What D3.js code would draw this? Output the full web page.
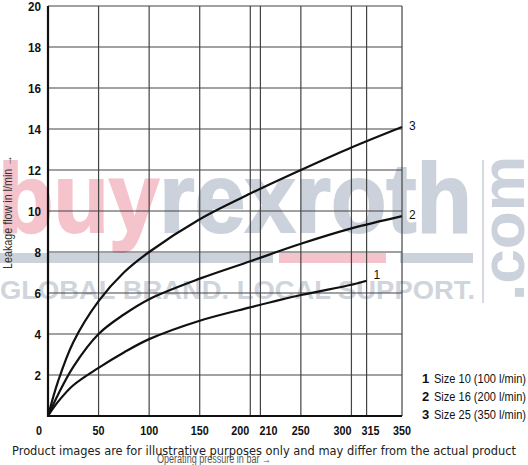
<!DOCTYPE html>
<html>
<head>
<meta charset="utf-8">
<script src="https://cdn.jsdelivr.net/npm/d3@7"></script>
<style>
  body { margin: 0; background: #fff; }
  svg { display: block; }
</style>
</head>
<body>
<script>
// Chart data
let pressureTicks = [0, 50, 100, 150, 200, 210, 250, 300, 315, 350]
let flowTicks = [2, 4, 6, 8, 10, 12, 14, 16, 18, 20]

let pressure10 = [0, 10, 25, 50, 75, 100, 150, 200, 250, 300, 315]
let flow10 = [0, 0.7, 1.5, 2.35, 3.1, 3.75, 4.65, 5.3, 5.9, 6.4, 6.6]

let pressure16 = [0, 10, 25, 50, 75, 100, 150, 200, 250, 300, 350]
let flow16 = [0, 1.05, 2.4, 4.0, 4.95, 5.7, 6.7, 7.55, 8.4, 9.15, 9.75]

let pressure25 = [0, 10, 25, 50, 75, 100, 150, 200, 250, 300, 350]
let flow25 = [0, 1.7, 3.6, 5.6, 7.0, 8.0, 9.6, 10.85, 12.0, 13.1, 14.1]

let curveNames = ["1", "2", "3"]
let legendLabels = ["Size 10 (100 l/min)", "Size 16 (200 l/min)", "Size 25 (350 l/min)"]

let width = 528, height = 465
let sans = "'Liberation Sans', Arial, sans-serif"

// labels of close ticks are pushed apart a little
let tickNudge = { 0: -9, 200: -10, 210: 8, 300: -9, 315: 4 }

let svg = d3.select("body").append("svg")
    .attr("width", width)
    .attr("height", height)

// scales
let x = d3.scaleLinear().domain([0, 350]).range([48, 402])
let y = d3.scaleLinear().domain([0, 20]).range([416, 6])

// watermark behind everything
let wm = svg.append("g")
wm.append("text")
    .attr("x", -2).attr("y", 232)
    .attr("font-family", sans)
    .attr("font-weight", "bold")
    .attr("font-size", 98)
    .attr("stroke-width", 2)
    .attr("textLength", 474)
    .attr("lengthAdjust", "spacingAndGlyphs")
    .html('<tspan fill="#f5c3cb" stroke="#f5c3cb">buy</tspan><tspan fill="#cbd2db" stroke="#cbd2db">rexroth</tspan>')
wm.append("rect").attr("x", 0).attr("y", 253).attr("width", 273).attr("height", 10).attr("fill", "#cbd2db")
wm.append("rect").attr("x", 279).attr("y", 253).attr("width", 107).attr("height", 10).attr("fill", "#f5c3cb")
wm.append("rect").attr("x", 400).attr("y", 253).attr("width", 73).attr("height", 10).attr("fill", "#cbd2db")
wm.append("text")
    .attr("x", 0).attr("y", 299)
    .attr("font-family", sans)
    .attr("font-weight", "bold")
    .attr("font-size", 25)
    .attr("fill", "#d0d5dc")
    .attr("textLength", 475)
    .attr("lengthAdjust", "spacingAndGlyphs")
    .text("GLOBAL BRAND. LOCAL SUPPORT.")
wm.append("rect").attr("x", 482).attr("y", 160).attr("width", 2).attr("height", 143).attr("fill", "#d5dae0")
wm.append("text")
    .attr("transform", "translate(524,301) rotate(-90)")
    .attr("font-family", sans)
    .attr("font-weight", "bold")
    .attr("font-size", 62)
    .attr("fill", "#cbd2db")
    .attr("textLength", 145)
    .attr("lengthAdjust", "spacingAndGlyphs")
    .text(".com")

// grid lines
svg.append("g")
  .selectAll("line")
  .data(pressureTicks.filter(d => d > 0))
  .enter()
  .append("line")
    .attr("x1", d => x(d)).attr("x2", d => x(d))
    .attr("y1", y(20)).attr("y2", y(0))
    .attr("stroke", "#444")
    .attr("stroke-width", 1.2)
svg.append("g")
  .selectAll("line")
  .data(flowTicks)
  .enter()
  .append("line")
    .attr("x1", x(0)).attr("x2", x(350))
    .attr("y1", d => y(d)).attr("y2", d => y(d))
    .attr("stroke", "#444")
    .attr("stroke-width", 1.2)

// main axes lines (thicker)
svg.append("line")
    .attr("x1", x(0)).attr("x2", x(0)).attr("y1", y(20)).attr("y2", y(0) + 1)
    .attr("stroke", "#111").attr("stroke-width", 2.2)
svg.append("line")
    .attr("x1", x(0) - 1).attr("x2", x(350)).attr("y1", y(0)).attr("y2", y(0))
    .attr("stroke", "#111").attr("stroke-width", 2.2)

// tick labels
svg.append("g")
  .selectAll("text")
  .data(pressureTicks)
  .enter()
  .append("text")
    .attr("x", d => x(d) + (tickNudge[d] || 0))
    .attr("y", 435)
    .attr("text-anchor", "middle")
    .attr("font-family", sans)
    .attr("font-weight", "bold")
    .attr("font-size", 13)
    .attr("fill", "#111")
    .attr("textLength", d => String(d).length * 6)
    .attr("lengthAdjust", "spacingAndGlyphs")
    .text(d => d)
svg.append("g")
  .selectAll("text")
  .data(flowTicks)
  .enter()
  .append("text")
    .attr("x", 41)
    .attr("y", d => y(d) + 5)
    .attr("text-anchor", "end")
    .attr("font-family", sans)
    .attr("font-weight", "bold")
    .attr("font-size", 13)
    .attr("fill", "#111")
    .attr("textLength", d => String(d).length * 6.5)
    .attr("lengthAdjust", "spacingAndGlyphs")
    .text(d => d)

// curves
let series = [
  { p: pressure10, f: flow10 },
  { p: pressure16, f: flow16 },
  { p: pressure25, f: flow25 }
]
let line = d3.line()
    .x(d => x(d[0]))
    .y(d => y(d[1]))
    .curve(d3.curveCatmullRom.alpha(0.5))

series.forEach((s, i) => {
  let pts = s.p.map((p, j) => [p, s.f[j]])
  svg.append("path")
      .attr("d", line(pts))
      .attr("fill", "none")
      .attr("stroke", "#111")
      .attr("stroke-width", 2.2)
  let last = pts[pts.length - 1]
  svg.append("text")
      .attr("x", x(last[0]) + 7)
      .attr("y", y(last[1]) + (i === 0 ? -2 : 3))
      .attr("font-family", sans)
      .attr("font-size", 12)
      .attr("fill", "#111")
      .text(curveNames[i])
})

// legend
let legend = svg.append("g")
legendLabels.forEach((label, i) => {
  legend.append("text")
      .attr("x", 422)
      .attr("y", 383 + i * 18)
      .attr("font-family", sans)
      .attr("font-weight", "bold")
      .attr("font-size", 13)
      .attr("fill", "#111")
      .text(curveNames[i])
  legend.append("text")
      .attr("x", 434)
      .attr("y", 383 + i * 18)
      .attr("font-family", sans)
      .attr("font-size", 12.5)
      .attr("fill", "#111")
      .attr("textLength", 92)
      .attr("lengthAdjust", "spacingAndGlyphs")
      .text(label)
})

// axis titles
svg.append("text")
    .attr("transform", "translate(12,212) rotate(-90)")
    .attr("text-anchor", "middle")
    .attr("font-family", sans)
    .attr("font-size", 12)
    .attr("fill", "#333")
    .attr("textLength", 114)
    .attr("lengthAdjust", "spacingAndGlyphs")
    .text("Leakage flow in l/min \u2192")
svg.append("text")
    .attr("x", 157)
    .attr("y", 463)
    .attr("font-family", sans)
    .attr("font-size", 12)
    .attr("fill", "#555")
    .attr("textLength", 114)
    .attr("lengthAdjust", "spacingAndGlyphs")
    .text("Operating pressure in bar \u2192")

// disclaimer footer
svg.append("text")
    .attr("x", 12)
    .attr("y", 455)
    .attr("font-family", "'DejaVu Sans', sans-serif")
    .attr("font-size", 12)
    .attr("fill", "#222")
    .attr("textLength", 504)
    .attr("lengthAdjust", "spacingAndGlyphs")
    .text("Product images are for illustrative purposes only and may differ from the actual product")
</script>
</body>
</html>
